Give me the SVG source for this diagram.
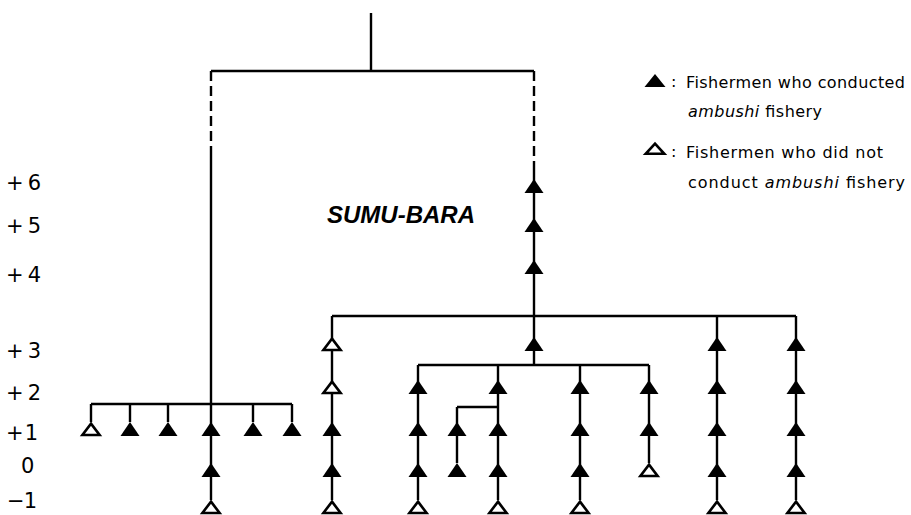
<svg xmlns="http://www.w3.org/2000/svg" xmlns:xlink="http://www.w3.org/1999/xlink" width="911" height="515" viewBox="0 0 911 515">
<style>
.ln{stroke:#000;stroke-width:2.4;fill:none}
.dash{stroke:#000;stroke-width:2.4;fill:none;stroke-dasharray:10 5}
.fill{fill:#000}
.hol{fill:#fff;stroke:#000;stroke-width:2.6;stroke-linejoin:miter}
.lbl{font-family:"DejaVu Sans","Liberation Sans",sans-serif;font-size:21px;fill:#000}
.leg{font-family:"DejaVu Sans","Liberation Sans",sans-serif;font-size:16px;fill:#000}
.title{font-family:"Liberation Sans",Arial,sans-serif;font-size:24px;font-weight:bold;font-style:italic;fill:#000}
</style>
<defs>
<path id="tf" class="fill" d="M0,0 L9.5,14 L-9.5,14 Z"/>
<path id="th" class="hol" d="M0,1.6 L8.6,13 L-8.6,13 Z"/>
<path id="lf" class="fill" d="M0,0 L10.5,13 L-10.5,13 Z"/>
<path id="lh" class="hol" d="M0,1.6 L9.3,11.8 L-9.3,11.8 Z"/>
</defs>
<rect width="911" height="515" fill="#fff"/>
<g id="connectors">
<path class="ln" d="M371,13 V71 M211,71 H534"/>
<path class="dash" d="M211,71 V150"/>
<path class="dash" d="M534,71 V170"/>
<path class="ln" d="M211,150 V500"/>
<path class="ln" d="M534,170 V365"/>
<path class="ln" d="M91,404 H292 M91,404 V422 M130,404 V422 M168,404 V422 M253,404 V422 M292,404 V422"/>
<path class="ln" d="M332,316 H796 M332,316 V500 M717,316 V500 M796,316 V500"/>
<path class="ln" d="M418,365 H649 M418,365 V500 M498,365 V500 M580,365 V500 M649,365 V463"/>
<path class="ln" d="M457,407 H498 M457,407 V463"/>
</g>
<g id="labels">
<text class="lbl" x="6" y="190" textLength="35">+6</text>
<text class="lbl" x="6" y="233" textLength="35">+5</text>
<text class="lbl" x="6" y="282" textLength="35">+4</text>
<text class="lbl" x="6" y="358" textLength="35">+3</text>
<text class="lbl" x="6" y="400" textLength="35">+2</text>
<text class="lbl" x="6" y="440" textLength="32">+1</text>
<text class="lbl" x="21" y="473">0</text>
<text class="lbl" x="7" y="508" textLength="30">−1</text>
</g>
<g id="title"><text class="title" x="327" y="223" textLength="148">SUMU-BARA</text></g>
<g id="legend">
<use href="#lf" x="655" y="74"/>
<text class="leg" x="671" y="87">:</text>
<text class="leg" x="686" y="88" textLength="219">Fishermen who conducted</text>
<text class="leg" x="688" y="117" textLength="134"><tspan font-style="italic">ambushi</tspan> fishery</text>
<use href="#lh" x="655" y="142"/>
<text class="leg" x="671" y="157">:</text>
<text class="leg" x="686" y="158" textLength="197">Fishermen who did not</text>
<text class="leg" x="688" y="188" textLength="217">conduct <tspan font-style="italic">ambushi</tspan> fishery</text>
</g>
<g id="n-c534">
<use href="#tf" x="534" y="179"/><use href="#tf" x="534" y="218"/><use href="#tf" x="534" y="260"/><use href="#tf" x="534" y="337"/>
</g>
<g id="n-left">
<use href="#th" x="91" y="422"/><use href="#tf" x="130" y="422"/><use href="#tf" x="168" y="422"/><use href="#tf" x="253" y="422"/><use href="#tf" x="292" y="422"/>
</g>
<g id="n-c211">
<use href="#tf" x="211" y="422"/><use href="#tf" x="211" y="463"/><use href="#th" x="211" y="500"/>
</g>
<g id="n-c332">
<use href="#th" x="332" y="337"/><use href="#th" x="332" y="380"/><use href="#tf" x="332" y="422"/><use href="#tf" x="332" y="463"/><use href="#th" x="332" y="500"/>
</g>
<g id="n-c418">
<use href="#tf" x="418" y="380"/><use href="#tf" x="418" y="422"/><use href="#tf" x="418" y="463"/><use href="#th" x="418" y="500"/>
</g>
<g id="n-c457">
<use href="#tf" x="457" y="422"/><use href="#tf" x="457" y="463"/>
</g>
<g id="n-c498">
<use href="#tf" x="498" y="380"/><use href="#tf" x="498" y="422"/><use href="#tf" x="498" y="463"/><use href="#th" x="498" y="500"/>
</g>
<g id="n-c580">
<use href="#tf" x="580" y="380"/><use href="#tf" x="580" y="422"/><use href="#tf" x="580" y="463"/><use href="#th" x="580" y="500"/>
</g>
<g id="n-c649">
<use href="#tf" x="649" y="380"/><use href="#tf" x="649" y="422"/><use href="#th" x="649" y="463"/>
</g>
<g id="n-c717">
<use href="#tf" x="717" y="337"/><use href="#tf" x="717" y="380"/><use href="#tf" x="717" y="422"/><use href="#tf" x="717" y="463"/><use href="#th" x="717" y="500"/>
</g>
<g id="n-c796">
<use href="#tf" x="796" y="337"/><use href="#tf" x="796" y="380"/><use href="#tf" x="796" y="422"/><use href="#tf" x="796" y="463"/><use href="#th" x="796" y="500"/>
</g>
</svg>
